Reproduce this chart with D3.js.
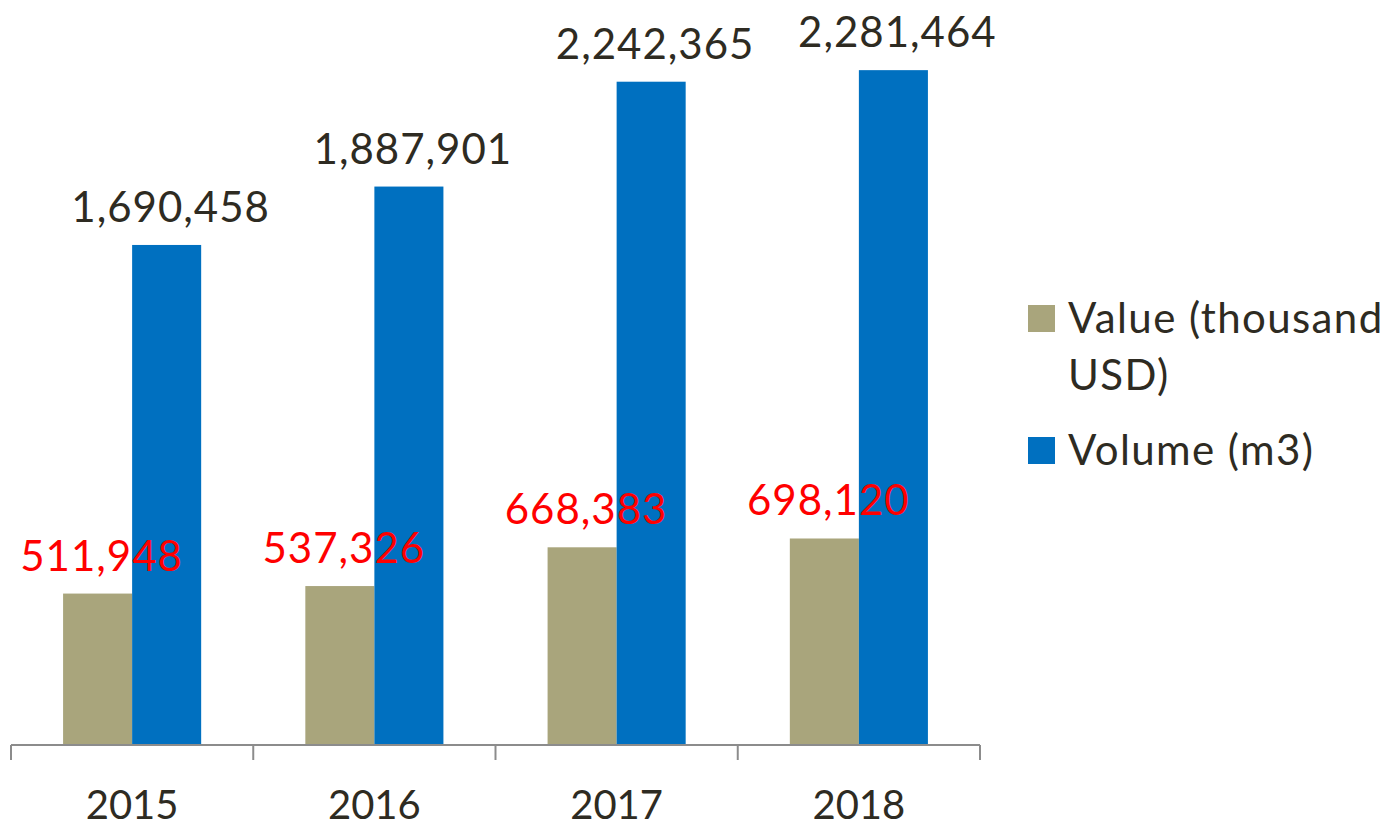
<!DOCTYPE html>
<html>
<head>
<meta charset="utf-8">
<script src="https://cdn.jsdelivr.net/npm/d3@7"></script>
<style>
  html, body { margin: 0; padding: 0; background: #fff; }
  svg { display: block; font-family: Lato, "Open Sans", sans-serif; }
</style>
</head>
<body>
<svg id="chart" width="1390" height="827"></svg>
<script>
// chart data
const years = ['2015', '2016', '2017', '2018'];
const seriesNames = ['Value (thousand USD)', 'Volume (m3)'];
const valueUSD = [511948, 537326, 668383, 698120];
const volumeM3 = [1690458, 1887901, 2242365, 2281464];
const seriesColors = ['#a9a57c', '#0070c0'];
const labelColors = ['#ff0000', '#2e2b22'];

const svg = d3.select('#chart');
const baseY = 745;

const x0 = d3.scaleBand().domain(years).range([11, 980])
    .paddingInner(0.43).paddingOuter(0.215);
const x1 = d3.scaleBand().domain(seriesNames).range([0, x0.bandwidth()]);
const y = d3.scaleLinear().domain([0, 2500000]).range([baseY, 5.5]);

const rows = years.map((yr, i) => ({
    year: yr,
    vals: [valueUSD[i], volumeM3[i]]
}));

// bars
const groups = svg.append('g').selectAll('g').data(rows).join('g')
    .attr('transform', d => `translate(${x0(d.year)},0)`);

groups.selectAll('rect')
    .data(d => d.vals.map((v, k) => ({ k, v })))
    .join('rect')
    .attr('x', d => x1(seriesNames[d.k]))
    .attr('width', x1.bandwidth())
    .attr('y', d => y(d.v))
    .attr('height', d => baseY - y(d.v))
    .attr('fill', d => seriesColors[d.k]);

// x axis, ticks sit between categories
const step = x0.step();
const tickXs = d3.range(years.length + 1).map(i => 11 + i * step);
const axis = svg.append('g');
axis.append('line')
    .attr('x1', 11).attr('x2', 980)
    .attr('y1', baseY).attr('y2', baseY)
    .attr('stroke', '#8c8c8c').attr('stroke-width', 2);
axis.selectAll('line.tick').data(tickXs).join('line')
    .attr('class', 'tick')
    .attr('x1', d => d).attr('x2', d => d)
    .attr('y1', baseY).attr('y2', baseY + 15)
    .attr('stroke', '#8c8c8c').attr('stroke-width', 2);
axis.selectAll('text').data(years).join('text')
    .attr('x', d => x0(d) + x0.bandwidth() / 2)
    .attr('y', 819)
    .attr('text-anchor', 'middle')
    .attr('font-size', 40)
    .attr('fill', '#2e2b22')
    .text(d => d);

// data labels (after bars so the red ones sit on top of the blue bars)
const fmt = d3.format(',');
const labels = svg.append('g');
rows.forEach(r => {
    r.vals.forEach((v, k) => {
        labels.append('text')
            .attr('x', x0(r.year) + x1(seriesNames[k]) + x1.bandwidth() / 2 + 4)
            .attr('y', y(v) - 23)
            .attr('text-anchor', 'middle')
            .attr('font-size', 42)
            .attr('letter-spacing', 1)
            .attr('fill', labelColors[k])
            .text(fmt(v));
    });
});

// legend
const legend = svg.append('g');
const legendItems = [
    { lines: ['Value (thousand', 'USD)'], color: seriesColors[0], y: 305 },
    { lines: ['Volume (m3)'], color: seriesColors[1], y: 437 }
];
legendItems.forEach(it => {
    legend.append('rect')
        .attr('x', 1028).attr('y', it.y)
        .attr('width', 27).attr('height', 27)
        .attr('fill', it.color);
    it.lines.forEach((ln, j) => {
        legend.append('text')
            .attr('x', 1068)
            .attr('y', it.y + 28 + j * 57)
            .attr('font-size', 42)
            .attr('letter-spacing', 1.4)
            .attr('fill', '#2e2b22')
            .text(ln);
    });
});
</script>
</body>
</html>
